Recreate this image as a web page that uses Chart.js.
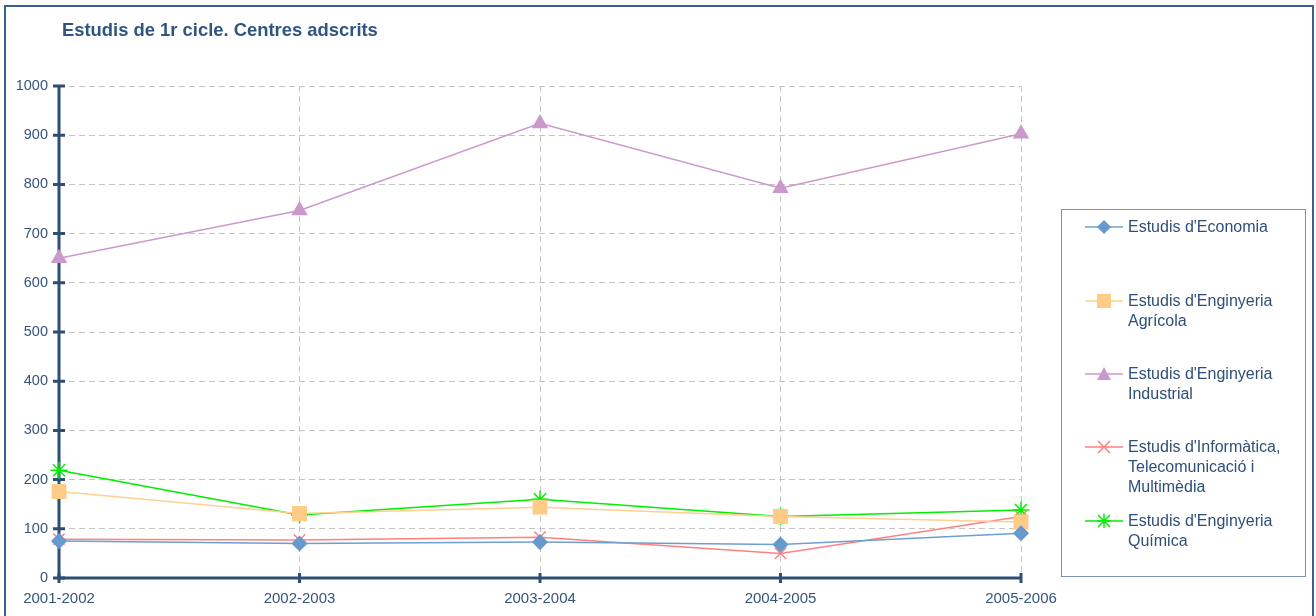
<!DOCTYPE html>
<html>
<head>
<meta charset="utf-8">
<script src="https://cdn.jsdelivr.net/npm/chart.js@4/dist/chart.umd.min.js"></script>
<style>
  body { margin: 0; background: #fff; font-family: "Liberation Sans", Arial, sans-serif; }
  #wrap { position: relative; width: 1316px; height: 616px; overflow: hidden; }
  #frame { position: absolute; left: 4px; top: 5px; width: 1306px; height: 640px; border: 2px solid #3A6190; }
  #title { position: absolute; left: 62px; top: 19px; font-size: 18.4px; font-weight: bold; color: #2F5580; }
  #chart { position: absolute; left: 0; top: 0; }
  #legend { position: absolute; left: 1061px; top: 209px; width: 243px; height: 366px; border: 1px solid #7F92AC; }
  .item { position: absolute; left: 23px; display: flex; align-items: flex-start; }
  .item svg { flex: none; margin-top: 1px; }
  .item span { margin-left: 5px; font-size: 16px; line-height: 20px; color: #2F4F78; white-space: nowrap; }
</style>
</head>
<body>
<div id="wrap">
  <div id="frame"></div>
  <canvas id="chart" width="1316" height="616"></canvas>
  <div id="title">Estudis de 1r cicle. Centres adscrits</div>
  <div id="legend"></div>
</div>
<script>
// Chart data
const years = ['2001-2002', '2002-2003', '2003-2004', '2004-2005', '2005-2006'];
const economia = [75, 70, 73, 68, 91];
const agricola = [176, 131, 144, 125, 114];
const industrial = [650, 747, 924, 792, 903];
const informatica = [79, 77, 83, 50, 125];
const quimica = [219, 128, 160, 125, 138];
const yTicks = [0, 100, 200, 300, 400, 500, 600, 700, 800, 900, 1000];

const series = [
    { label: ["Estudis d'Economia"], data: economia, color: '#6699CC', line: '#6F9FD2', style: 'rectRot', radius: 7, top: 7 },
    { label: ["Estudis d'Enginyeria", 'Agrícola'], data: agricola, color: '#FFCC88', line: '#FFD090', style: 'rect', radius: 9.5, top: 81 },
    { label: ["Estudis d'Enginyeria", 'Industrial'], data: industrial, color: '#CC99CC', line: '#CC99CC', style: 'triangle', radius: 8, top: 154 },
    { label: ["Estudis d'Informàtica,", 'Telecomunicació i', 'Multimèdia'], data: informatica, color: '#FF7F7F', line: '#FF8080', style: 'crossRot', radius: 8, top: 227 },
    { label: ["Estudis d'Enginyeria", 'Química'], data: quimica, color: '#00EE00', line: '#00EE00', style: 'star', radius: 8.5, top: 301 }
];

const axisColor = '#2E4E74';

// Draws the thick axes with ticks that cross them
const axisPlugin = {
    id: 'axisPlugin',
    beforeDatasetsDraw(chart) {
        const ctx = chart.ctx;
        const x = chart.scales.x, y = chart.scales.y;
        const left = chart.chartArea.left, bottom = chart.chartArea.bottom;
        ctx.save();
        ctx.strokeStyle = axisColor;
        ctx.lineWidth = 3;
        ctx.beginPath();
        ctx.moveTo(left, chart.chartArea.top);
        ctx.lineTo(left, bottom);
        ctx.lineTo(chart.chartArea.right, bottom);
        ctx.stroke();
        ctx.beginPath();
        yTicks.forEach(v => {
            const py = y.getPixelForValue(v);
            ctx.moveTo(left - 6, py);
            ctx.lineTo(left + 6, py);
        });
        years.forEach((_, i) => {
            const px = x.getPixelForValue(i);
            ctx.moveTo(px, bottom - 5);
            ctx.lineTo(px, bottom + 5);
        });
        ctx.stroke();
        ctx.restore();
    }
};

new Chart(document.getElementById('chart'), {
    type: 'line',
    data: {
        labels: years,
        datasets: series.map(s => ({
            label: s.label.join(' '),
            data: s.data,
            borderColor: s.line,
            backgroundColor: s.color,
            borderWidth: 1.5,
            pointStyle: s.style,
            pointRadius: s.radius,
            pointBorderColor: s.color,
            pointBackgroundColor: s.color,
            pointBorderWidth: 1.5,
            tension: 0
        }))
    },
    options: {
        responsive: false,
        animation: false,
        layout: { padding: { left: 0, right: 295, top: 86, bottom: 0 } },
        plugins: {
            legend: { display: false },
            title: { display: false },
            tooltip: { enabled: false }
        },
        scales: {
            x: {
                offset: false,
                border: { display: false, dash: [6, 4] },
                grid: { color: '#C4C4C4', lineWidth: 1, drawTicks: false },
                ticks: {
                    padding: 12,
                    color: '#36557C',
                    font: { family: 'Liberation Sans', size: 15 }
                },
                afterFit(scale) { scale.height = 38; }
            },
            y: {
                min: 0,
                max: 1000,
                border: { display: false, dash: [6, 4] },
                grid: { color: '#C4C4C4', lineWidth: 1, drawTicks: false },
                ticks: {
                    stepSize: 100,
                    padding: 11,
                    color: '#36557C',
                    font: { family: 'Liberation Sans', size: 14.5 },
                    callback: v => String(v)
                },
                afterFit(scale) { scale.width = 59; }
            }
        }
    },
    plugins: [axisPlugin]
});

// Build the HTML legend with small svg markers
function markerSvg(s) {
    let m = '';
    const c = s.color;
    if (s.style === 'rectRot') m = `<polygon points="19,2 26,9 19,16 12,9" fill="${c}"/>`;
    if (s.style === 'rect') m = `<rect x="12" y="2" width="14" height="14" fill="${c}"/>`;
    if (s.style === 'triangle') m = `<polygon points="19,2 26,15 12,15" fill="${c}"/>`;
    if (s.style === 'crossRot') m = `<path d="M13,3 L25,15 M25,3 L13,15" stroke="${c}" stroke-width="1.5"/>`;
    if (s.style === 'star') m = `<path d="M13,3 L25,15 M25,3 L13,15 M19,2 L19,16 M12,9 L26,9" stroke="${c}" stroke-width="1.5"/>`;
    return `<svg width="38" height="18"><line x1="0" y1="9" x2="38" y2="9" stroke="${s.line}" stroke-width="1.5"/>${m}</svg>`;
}
const legend = document.getElementById('legend');
series.forEach(s => {
    const div = document.createElement('div');
    div.className = 'item';
    div.style.top = s.top + 'px';
    div.innerHTML = markerSvg(s) + '<span>' + s.label.join('<br>') + '</span>';
    legend.appendChild(div);
});
</script>
</body>
</html>
